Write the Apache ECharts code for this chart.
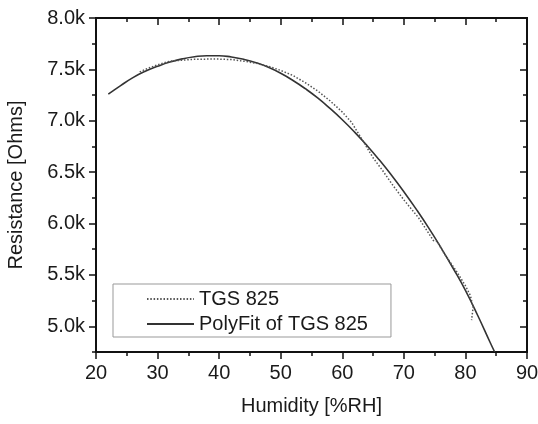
<!DOCTYPE html>
<html>
<head>
<meta charset="utf-8">
<script src="https://cdn.jsdelivr.net/npm/echarts@6/dist/echarts.min.js"></script>
<style>
html,body{margin:0;padding:0;background:#fff;}
#c{width:538px;height:424px;}
</style>
</head>
<body>
<div id="c"></div>
<script>
// Measured data: TGS 825 (dotted)
const dataX = [27.1, 28, 30, 32, 34, 36, 38, 40, 42, 44, 46, 48, 50, 52, 54, 56, 58, 60, 61.5, 63.4, 65, 66.5, 68, 70, 72.4, 74.8, 75.4, 76.5, 77.5, 78.5, 80, 80.8, 81.25, 81.0];
const dataY = [7475, 7500, 7545, 7580, 7590, 7598, 7600, 7600, 7595, 7580, 7560, 7530, 7490, 7440, 7370, 7290, 7195, 7085, 6985, 6800, 6640, 6520, 6390, 6230, 6055, 5835, 5825, 5715, 5625, 5540, 5395, 5300, 5185, 5060];
// Polynomial fit (solid)
const fitX = [22, 24, 26, 28, 30, 32, 34, 36, 38, 40, 42, 44, 46, 48, 50, 52, 54, 56, 58, 60, 62, 64, 66, 68, 70, 72, 74, 76, 78, 80, 82, 84, 84.75];
const fitY = [7259, 7342, 7420, 7482, 7530, 7571, 7602, 7623, 7633, 7633, 7620, 7598, 7565, 7520, 7462, 7392, 7312, 7222, 7120, 7010, 6890, 6760, 6620, 6470, 6310, 6140, 5960, 5768, 5565, 5350, 5105, 4845, 4750];
// Axis ticks
const xTicks = [20, 30, 40, 50, 60, 70, 80, 90];
const yMajorTicks = [5000, 5500, 6000, 6500, 7000, 7500, 8000];
const yMinorTicks = [4750, 5250, 5750, 6250, 6750, 7250, 7750];
const seriesNames = ['TGS 825', 'PolyFit of TGS 825'];

const FONT = 'Liberation Sans, Arial, Helvetica, sans-serif';
const TXT = '#1a1a1a';
const AX = '#111';

const pairs = (xs, ys) => xs.map((x, i) => [x, ys[i]]);

const chart = echarts.init(document.getElementById('c'), null, {renderer: 'canvas'});

function xAxisDef(pos) {
  const bottom = pos === 'bottom';
  return {
    type: 'value', position: pos, min: xTicks[0], max: xTicks[xTicks.length - 1], interval: 10,
    axisLine: {show: true, lineStyle: {color: AX, width: 2}},
    axisTick: {show: true, inside: !bottom, length: 7, lineStyle: {color: AX, width: 1.5}},
    minorTick: {show: true, splitNumber: 2, length: 4, lineStyle: {color: AX, width: 1.5}},
    axisLabel: {show: bottom, fontSize: 20, fontFamily: FONT, color: TXT, margin: 11},
    splitLine: {show: false},
    name: bottom ? 'Humidity [%RH]' : '',
    nameLocation: 'middle', nameGap: 44,
    nameTextStyle: {fontSize: 20, fontFamily: FONT, color: TXT}
  };
}

function yAxisDef(pos, major) {
  const left = pos === 'left';
  return {
    type: 'value', position: pos, min: 4750, max: 8000,
    axisLine: {show: true, lineStyle: {color: AX, width: 2}},
    axisTick: {show: true, inside: !left, length: major ? 7 : 4,
      customValues: major ? yMajorTicks : yMinorTicks,
      lineStyle: {color: AX, width: 1.5}},
    axisLabel: {show: left && major, customValues: yMajorTicks, fontSize: 20, fontFamily: FONT, color: TXT, margin: 11,
      formatter: v => (v / 1000).toFixed(1) + 'k'},
    splitLine: {show: false},
    name: (left && major) ? 'Resistance [Ohms]' : '',
    nameLocation: 'middle', nameGap: 70,
    nameTextStyle: {fontSize: 20, fontFamily: FONT, color: TXT}
  };
}

chart.setOption({
  animation: false,
  backgroundColor: '#fff',
  grid: {left: 96, right: 11, top: 18, bottom: 72, containLabel: false, outerBoundsMode: 'none'},
  xAxis: [xAxisDef('bottom'), xAxisDef('top')],
  yAxis: [yAxisDef('left', true), yAxisDef('left', false), yAxisDef('right', true), yAxisDef('right', false)],
  legend: {
    show: true, orient: 'vertical', left: 113, top: 284,
    data: seriesNames,
    itemWidth: 47, itemHeight: 14, itemGap: 5,
    padding: [5, 23, 3, 33],
    borderColor: '#999', borderWidth: 1, backgroundColor: '#fff',
    itemStyle: {opacity: 0},
    textStyle: {fontSize: 20, fontFamily: FONT, color: TXT, lineHeight: 20}
  },
  series: [
    {
      name: seriesNames[0], type: 'line', xAxisIndex: 0, yAxisIndex: 0,
      data: pairs(dataX, dataY), symbol: 'none', showSymbol: false,
      lineStyle: {color: '#555', width: 1.5, type: [1.5, 1.8]},
      itemStyle: {color: '#555'}, z: 3
    },
    {
      name: seriesNames[1], type: 'line', xAxisIndex: 0, yAxisIndex: 0,
      data: pairs(fitX, fitY), symbol: 'none', showSymbol: false, smooth: true,
      lineStyle: {color: '#333', width: 1.6},
      itemStyle: {color: '#333'}, z: 2
    }
  ]
});
</script>
</body>
</html>
